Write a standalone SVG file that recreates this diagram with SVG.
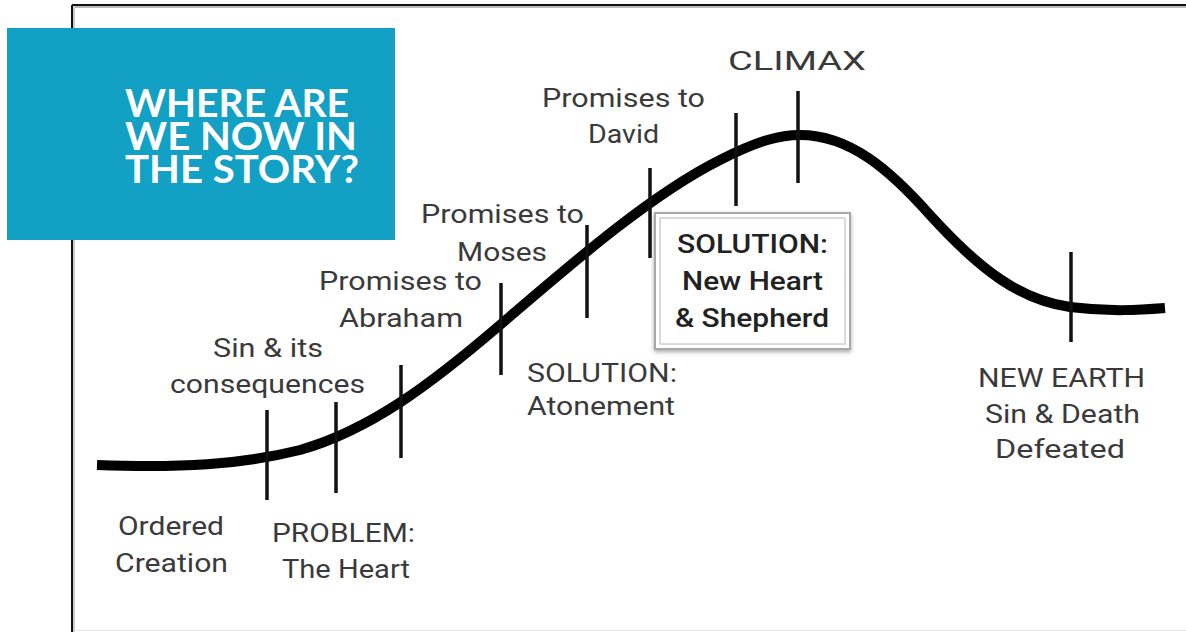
<svg xmlns="http://www.w3.org/2000/svg" width="1186" height="632" viewBox="0 0 1186 632">
<style>
.lbl{font-family:Roboto,"Liberation Sans",sans-serif;font-size:26px;fill:#3a3a3a;}
.box{font-family:Roboto,"Liberation Sans",sans-serif;font-size:26px;font-weight:500;fill:#222;}
.ttl{font-family:Lato,"Open Sans","Liberation Sans",sans-serif;font-size:38px;font-weight:700;fill:#fff;}
.tick{stroke:#111;stroke-width:3.5;}
</style>
<defs>
<filter id="sh" x="-10%" y="-10%" width="120%" height="130%">
<feGaussianBlur in="SourceAlpha" stdDeviation="2"/>
<feOffset dx="0" dy="2"/>
<feComponentTransfer><feFuncA type="linear" slope="0.35"/></feComponentTransfer>
<feMerge><feMergeNode/><feMergeNode in="SourceGraphic"/></feMerge>
</filter>
</defs>
<rect width="1186" height="632" fill="#fff"/>
<g id="frame">
<line x1="74" y1="7" x2="1186" y2="7" stroke="#bbb" stroke-width="2"/>
<line x1="74" y1="7" x2="74" y2="632" stroke="#ccc" stroke-width="2"/>
<line x1="72" y1="5" x2="1186" y2="5" stroke="#111" stroke-width="2"/>
<line x1="72" y1="5" x2="72" y2="632" stroke="#111" stroke-width="2"/>
<line x1="74" y1="630.5" x2="1186" y2="630.5" stroke="#e6e6e6" stroke-width="1"/>
</g>
<g id="connectors">
<path d="M97,465 C180,468 240,465 300,450 C370,430 430,385 500,325 C570,265 650,195 720,160 C760,140 780,135 800,135 C850,135 890,170 930,215 C980,270 1020,300 1070,307 C1110,312 1140,310 1165,308" fill="none" stroke="#000" stroke-width="10" stroke-linecap="butt"/>
<line class="tick" x1="267" y1="410" x2="267" y2="500"/>
<line class="tick" x1="336" y1="402" x2="336" y2="493"/>
<line class="tick" x1="401" y1="365" x2="401" y2="458"/>
<line class="tick" x1="501" y1="283" x2="501" y2="375"/>
<line class="tick" x1="587" y1="225" x2="587" y2="318"/>
<line class="tick" x1="650" y1="168" x2="650" y2="258"/>
<line class="tick" x1="736" y1="113" x2="736" y2="206"/>
<line class="tick" x1="798" y1="91" x2="798" y2="183"/>
<line class="tick" x1="1071" y1="252" x2="1071" y2="342"/>
</g>
<g id="climax">
<text class="lbl" x="728" y="70" font-size="34" textLength="138" lengthAdjust="spacingAndGlyphs">CLIMAX</text>
</g>
<g id="david">
<text class="lbl" x="542" y="107" textLength="163" lengthAdjust="spacingAndGlyphs">Promises to</text>
<text class="lbl" x="588" y="143" textLength="71" lengthAdjust="spacingAndGlyphs">David</text>
</g>
<g id="moses">
<text class="lbl" x="421" y="223" textLength="163" lengthAdjust="spacingAndGlyphs">Promises to</text>
<text class="lbl" x="457" y="261" textLength="90" lengthAdjust="spacingAndGlyphs">Moses</text>
</g>
<g id="abraham">
<text class="lbl" x="319" y="290" textLength="163" lengthAdjust="spacingAndGlyphs">Promises to</text>
<text class="lbl" x="339" y="327" textLength="124" lengthAdjust="spacingAndGlyphs">Abraham</text>
</g>
<g id="sin">
<text class="lbl" x="213" y="357" textLength="110" lengthAdjust="spacingAndGlyphs">Sin &amp; its</text>
<text class="lbl" x="170" y="393" textLength="195" lengthAdjust="spacingAndGlyphs">consequences</text>
</g>
<g id="ordered">
<text class="lbl" x="118" y="535" textLength="106" lengthAdjust="spacingAndGlyphs">Ordered</text>
<text class="lbl" x="115" y="572" textLength="113" lengthAdjust="spacingAndGlyphs">Creation</text>
</g>
<g id="problem">
<text class="lbl" x="272" y="542" textLength="143" lengthAdjust="spacingAndGlyphs">PROBLEM:</text>
<text class="lbl" x="282" y="578" textLength="128" lengthAdjust="spacingAndGlyphs">The Heart</text>
</g>
<g id="atonement">
<text class="lbl" x="527" y="382" textLength="150" lengthAdjust="spacingAndGlyphs">SOLUTION:</text>
<text class="lbl" x="527" y="415" textLength="148" lengthAdjust="spacingAndGlyphs">Atonement</text>
</g>
<g id="newearth">
<text class="lbl" x="978" y="387" textLength="167" lengthAdjust="spacingAndGlyphs">NEW EARTH</text>
<text class="lbl" x="985" y="423" textLength="155" lengthAdjust="spacingAndGlyphs">Sin &amp; Death</text>
<text class="lbl" x="995" y="458" textLength="130" lengthAdjust="spacingAndGlyphs">Defeated</text>
</g>
<g id="solutionbox">
<rect x="655" y="213" width="195" height="136" fill="#fff" stroke="#a8a8a8" stroke-width="2" filter="url(#sh)"/>
<rect x="660" y="218" width="185" height="126" fill="none" stroke="#d0d0d0" stroke-width="1.5"/>
<text class="box" x="677" y="253" textLength="151" lengthAdjust="spacingAndGlyphs">SOLUTION:</text>
<text class="box" x="682" y="290" textLength="141" lengthAdjust="spacingAndGlyphs">New Heart</text>
<text class="box" x="675" y="327" textLength="154" lengthAdjust="spacingAndGlyphs">&amp; Shepherd</text>
</g>
<g id="title">
<rect x="7" y="28" width="388" height="212" fill="#12A0C4"/>
<text class="ttl" x="125" y="117" textLength="224" lengthAdjust="spacingAndGlyphs">WHERE ARE</text>
<text class="ttl" x="125" y="150" textLength="232" lengthAdjust="spacingAndGlyphs">WE NOW IN</text>
<text class="ttl" x="125" y="183" textLength="234" lengthAdjust="spacingAndGlyphs">THE STORY?</text>
</g>
</svg>
